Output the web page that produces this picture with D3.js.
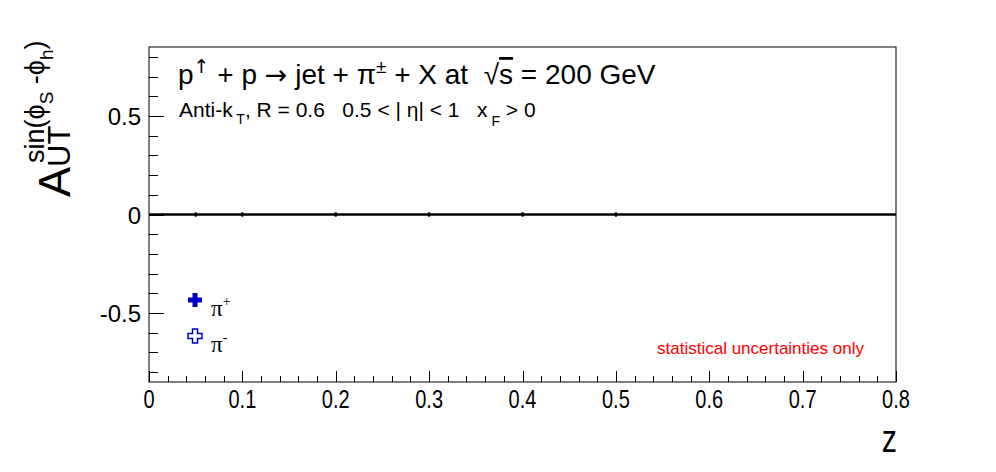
<!DOCTYPE html>
<html><head><meta charset="utf-8">
<script src="https://cdn.jsdelivr.net/npm/d3@7"></script>
<style>
body{margin:0;background:#fff;}
svg{display:block;}
text{white-space:pre;}
</style></head>
<body><svg id="c" width="996" height="472"></svg>
<script>
// ---- data ----
const zBins = [0.05, 0.1, 0.2, 0.3, 0.4, 0.5];
const piPlusValues = [0, 0, 0, 0, 0, 0];
const piPlusErrors = [0.01, 0.01, 0.01, 0.01, 0.01, 0.01];
const piMinusValues = [0, 0, 0, 0, 0, 0];
const piMinusErrors = [0.01, 0.01, 0.01, 0.01, 0.01, 0.01];
const xTickLabels = ["0", "0.1", "0.2", "0.3", "0.4", "0.5", "0.6", "0.7", "0.8"];
const yTickLabels = ["-0.5", "0", "0.5"];
const legendLabels = ["+", "-"];

const svg = d3.select("#c");
const L = 149, R = 896, T = 47, B = 382;
const x = d3.scaleLinear().domain([0, 0.8]).range([L, R]);
const y = d3.scaleLinear().domain([-0.85, 0.85]).range([B, T]);
const SANS = "'Liberation Sans',Arial,sans-serif";

// frame
svg.append("rect").attr("x", L).attr("y", T).attr("width", R - L).attr("height", B - T)
  .attr("fill", "none").attr("stroke", "#000").attr("stroke-width", 1);

// x axis ticks
const xMinor = d3.range(0, 0.8001, 0.02);
svg.selectAll(".xm").data(xMinor).enter().append("line")
  .attr("x1", d => Math.round(x(d)) + 0.5).attr("x2", d => Math.round(x(d)) + 0.5)
  .attr("y1", B).attr("y2", (d, i) => i % 5 === 0 ? B - 11 : B - 6)
  .attr("stroke", "#000");
svg.selectAll(".xl").data(xTickLabels).enter().append("text")
  .attr("transform", d => `translate(${x(+d)},408) scale(0.8,1)`)
  .attr("text-anchor", "middle")
  .attr("font-family", SANS)
  .attr("font-size", 25).text(d => d);
svg.append("text").attr("transform", "translate(897,452) scale(0.8,1)").attr("text-anchor", "end")
  .attr("font-family", SANS)
  .attr("font-size", 38).text("z");

// y axis ticks
const yMinor = d3.range(-8, 9).map(v => v / 10);
svg.selectAll(".ym").data(yMinor).enter().append("line")
  .attr("y1", d => Math.round(y(d)) + 0.5).attr("y2", d => Math.round(y(d)) + 0.5)
  .attr("x1", L).attr("x2", d => (Math.abs(Math.round(d * 10)) % 5 === 0) ? L + 15 : L + 9)
  .attr("stroke", "#000");
svg.selectAll(".yl").data(yTickLabels).enter().append("text")
  .attr("x", 141).attr("y", d => y(+d) + 9)
  .attr("text-anchor", "end")
  .attr("font-family", SANS)
  .attr("font-size", 24).text(d => d);

// y title
const yt = svg.append("g").attr("font-family", SANS);
yt.append("text").attr("transform", "translate(70,197) rotate(-90)")
  .attr("font-size", 45).text("A")
  .append("tspan").attr("font-size", 31).attr("dy", 0).text("UT");
const sup = yt.append("text").attr("transform", "translate(44,163) rotate(-90)")
  .attr("font-size", 27);
sup.append("tspan").text("sin(ϕ");
sup.append("tspan").attr("font-size", 19).attr("dy", 9).text("S");
sup.append("tspan").attr("dy", -9).text(" -ϕ");
sup.append("tspan").attr("font-size", 19).attr("dy", 9).text("h");
sup.append("tspan").attr("dy", -9).text(")");

// zero line
svg.append("line").attr("x1", x(0)).attr("x2", x(0.8)).attr("y1", y(0)).attr("y2", y(0))
  .attr("stroke", "#000").attr("stroke-width", 2.5);

// data error bars (values at zero)
const g = svg.append("g");
[ [piPlusValues, piPlusErrors], [piMinusValues, piMinusErrors] ].forEach(([vals, errs]) => {
  g.selectAll(null).data(zBins).enter().append("line")
    .attr("x1", (d) => x(d)).attr("x2", d => x(d))
    .attr("y1", (d, i) => y(vals[i] - errs[i])).attr("y2", (d, i) => y(vals[i] + errs[i]))
    .attr("stroke", "#000").attr("stroke-width", 2);
});

// title
const t1 = svg.append("text").attr("x", 178).attr("y", 84)
  .attr("font-family", SANS).attr("font-size", 28);
t1.append("tspan").text("p");
t1.append("tspan").attr("font-size", 19).attr("font-family", "'DejaVu Sans',sans-serif").attr("dy", -11).text("↑");
t1.append("tspan").attr("dy", 11).text(" + p ");
t1.append("tspan").attr("font-family", "'DejaVu Sans',sans-serif").attr("font-size", 27).text("→");
t1.append("tspan").text(" jet + π");
t1.append("tspan").attr("font-size", 19).attr("dy", -11).text("±");
t1.append("tspan").attr("dy", 11).text(" + X at  √");
t1.append("tspan").style("text-decoration", "overline").text("s");
t1.append("tspan").text(" = 200 GeV");

const t2 = svg.append("text").attr("x", 179).attr("y", 117)
  .attr("font-family", SANS).attr("font-size", 21);
t2.append("tspan").text("Anti-k");
t2.append("tspan").attr("font-size", 14).attr("dy", 7).text(" T");
t2.append("tspan").attr("dy", -7).text(", R = 0.6   0.5 < | η| < 1   x");
t2.append("tspan").attr("font-size", 14).attr("dy", 9).text(" F");
t2.append("tspan").attr("dy", -9).text(" > 0");

// legend
const crossPath = "M-2.5,-7H2.5V-2.5H7V2.5H2.5V7H-2.5V2.5H-7V-2.5H-2.5Z";
svg.append("path").attr("d", crossPath).attr("transform", "translate(195,300)")
  .attr("fill", "#0000cc");
svg.append("path").attr("d", crossPath).attr("transform", "translate(195,336)")
  .attr("fill", "#fff").attr("stroke", "#0000cc").attr("stroke-width", 1.5);
legendLabels.forEach((s, i) => {
  const tx = svg.append("text").attr("x", 211).attr("y", 316 + i * 36)
    .attr("font-family", "'Liberation Serif','Times New Roman',serif").attr("font-size", 23);
  tx.append("tspan").text("π");
  tx.append("tspan").attr("font-size", 14).attr("dy", -10).text(s);
});

// note
svg.append("text").attr("x", 657).attr("y", 354)
  .attr("font-family", SANS).attr("font-size", 17)
  .attr("fill", "#ff0000").text("statistical uncertainties only");
</script></body></html>
